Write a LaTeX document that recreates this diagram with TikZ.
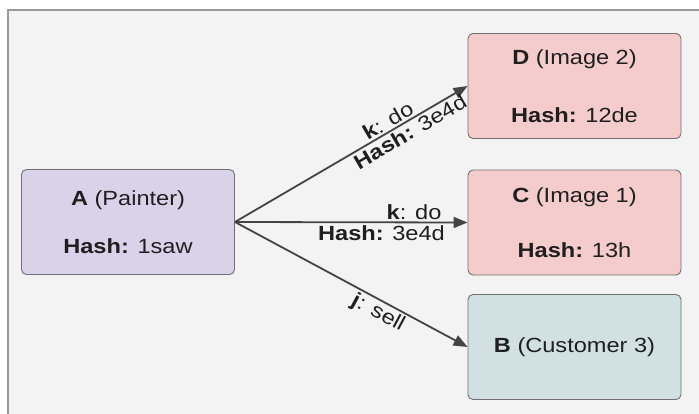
\documentclass[tikz,border=0pt]{standalone}
\usepackage{fontspec}
\setmainfont{Liberation Sans}
\usetikzlibrary{arrows.meta}
\definecolor{bgc}{HTML}{F3F3F3}
\definecolor{framec}{HTML}{999999}
\definecolor{boxline}{HTML}{707070}
\definecolor{purp}{HTML}{D9D2E9}
\definecolor{pinkc}{HTML}{F4CCCC}
\definecolor{bluec}{HTML}{D0E0E3}
\definecolor{edgec}{HTML}{444444}
\definecolor{txt}{HTML}{1F1F1F}
\newcommand\wx[1]{\scalebox{1.15}[1]{#1}}
\begin{document}
\begin{tikzpicture}[x=1pt,y=-1pt,
  box/.style={draw=boxline, line width=0.9pt, rounded corners=5pt,
    minimum width=213pt, minimum height=105pt, align=center, inner sep=0pt, text=txt},
  edge/.style={draw=edgec, line width=1.8pt, -{Triangle[length=14pt,width=11pt]}},
  lab/.style={font=\fontsize{20.5}{24}\selectfont, text=txt, inner sep=2pt}]
\useasboundingbox (0,0) rectangle (699,413);
\fill[white] (0,0) rectangle (699,413);
\draw[framec, line width=1.2pt, fill=bgc] (8,10) rectangle (730,440);

\node[box, fill=purp, font=\fontsize{20.5}{48}\selectfont] (A) at (128,222)
  {\wx{\textbf{A} (Painter)}\\\wx{\textbf{Hash:} 1saw}};
\node[box, fill=pinkc, font=\fontsize{20.5}{58}\selectfont] (D) at (574.5,86)
  {\wx{\textbf{D} (Image 2)}\\\wx{\textbf{Hash:} 12de}};
\node[box, fill=pinkc, font=\fontsize{20.5}{55}\selectfont] (C) at (574.5,222.5)
  {\wx{\textbf{C} (Image 1)}\\\wx{\textbf{Hash:} 13h}};
\node[box, fill=bluec, font=\fontsize{20.5}{24}\selectfont] (B) at (574.5,347)
  {\wx{\textbf{B} (Customer 3)}};

\draw[edge] (A.east) -- node[lab, sloped, above, pos=.68] {\wx{\textbf{k}: do}}
  node[lab, sloped, below, pos=.73] {\wx{\textbf{Hash:} 3e4d}} (D.west);
\draw[edge] (A.east) -- node[lab, above, pos=.77] {\wx{\textbf{k}: do}}
  node[lab, below, pos=.63] {\wx{\textbf{Hash:} 3e4d}} (C.west);
\draw[edge] (A.east) -- node[lab, sloped, below, pos=.64] {\wx{\textbf{j}: sell}} (B.west);
\end{tikzpicture}
\end{document}
